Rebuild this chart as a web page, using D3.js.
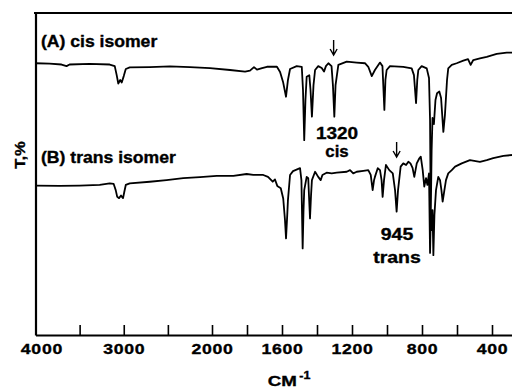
<!DOCTYPE html>
<html>
<head>
<meta charset="utf-8">
<title>IR spectra cis / trans</title>
<style>
  body { margin: 0; background: #fff; }
  svg { display: block; font-family: "Liberation Sans", Arial, sans-serif; font-weight: bold; }
  svg text { stroke: #000; stroke-width: 0.35px; }
</style>
</head>
<body>
<svg></svg>
<script src="https://d3js.org/d3.v7.min.js"></script>
<script>
// wavenumbers (cm-1) and transmittance, A = cis, B = trans
var cisWave = [4000,3841,3705,3648,3614,3386,3159,3102,3080,3062,3040,3023,3000,2977,2932,2705,2477,2250,2023,1897,
  1811,1783,1760,1743,1714,1686,1629,1611,1594,1577,1566,1554,1516,1487,1480,1473,1466,1459,1444,1437,
  1429,1420,1411,1393,1373,1360,1349,1335,1317,1309,1301,1294,1278,1230,1173,1126,1107,1087,1069,1040,
  1026,1015,1009,1002,983,907,859,846,834,827,821,802,773,760,754,750,745,740,732,723,
  714,701,691,678,669,657,650,630,602,564,537,522,507,469,430,373,316,286]
var cisT = [84.4,84.3,84.0,83.5,84.0,84.2,84.0,83.5,80.7,78.1,79.2,78.4,80.4,82.6,83.1,83.2,83.4,83.2,82.9,82.3,
  81.8,82.1,83.2,82.4,82.9,83.3,83.3,81.7,78.6,74.0,79.2,82.6,83.5,83.3,76.1,60.5,73.0,80.2,80.7,76.1,
  67.8,77.6,82.3,83.5,82.9,81.8,83.5,84.4,83.5,77.6,67.8,77.6,83.9,84.9,84.6,84.4,83.3,80.4,82.3,84.6,
  83.5,69.9,79.2,82.3,83.5,83.3,82.8,80.7,72.0,79.2,82.3,83.5,82.8,79.8,66.8,37.3,57.4,67.4,65.5,73.0,
  75.1,75.6,73.6,63.1,68.3,79.2,82.8,83.9,84.4,85.2,85.7,83.9,85.4,85.9,86.4,87.3,87.7,87.7]

var transWave = [4000,3727,3500,3273,3159,3114,3091,3074,3053,3031,3008,2994,2977,2932,2705,2515,2326,2136,1973,1878,
  1802,1764,1707,1680,1653,1640,1627,1607,1593,1583,1577,1570,1566,1554,1537,1497,1489,1482,1477,1473,
  1459,1450,1446,1440,1434,1429,1411,1393,1379,1369,1345,1316,1287,1230,1211,1193,1173,1135,1107,1093,
  1082,1074,1069,1053,1040,1031,1025,1017,1006,987,967,954,945,937,922,907,891,878,866,854,
  844,830,815,807,796,787,777,769,760,754,749,745,740,735,729,720,707,697,689,682,
  672,663,650,630,611,573,526,469,430,393,335,286]
var transT = [46.4,46.3,46.4,46.6,47.1,46.9,45.0,42.9,42.5,43.3,42.5,44.4,46.6,47.1,47.6,48.1,48.7,49.0,49.4,49.4,
  50.0,49.7,49.7,49.1,47.6,48.3,46.3,45.6,42.4,35.7,30.0,37.3,41.9,49.7,50.9,51.8,48.1,26.9,38.8,45.0,
  49.1,48.7,43.5,36.2,43.5,48.1,50.7,49.1,48.1,49.7,50.4,50.2,50.4,50.7,51.2,50.2,50.7,51.0,51.2,49.7,
  45.0,48.1,49.1,51.8,51.2,48.1,42.9,48.1,52.8,51.2,50.2,45.0,38.3,45.0,52.3,53.3,52.8,53.8,53.3,51.9,
  49.1,53.3,54.9,55.4,51.2,46.1,48.7,46.6,50.2,25.5,38.8,32.6,38.8,24.8,37.3,45.0,49.1,48.1,45.0,41.4,
  45.0,48.1,50.2,51.2,52.3,53.3,54.3,53.8,54.3,54.9,55.6,55.9]

// axis ticks
var tickWaves = [4000,3500,3000,2500,2000,1800,1600,1400,1200,1000,800,600,400]
var tickLabels = [4000,3000,2000,1600,1200,800,400]

// annotations: arrow position (cm-1), label lines
var markWave = [1305, 945]
var markText = [["1320","cis"], ["945","trans"]]
var titles = ["(A) cis isomer", "(B) trans isomer"]

var _width = 512
var _height = 390
var _svg = d3.select("svg").attr("width", _width).attr("height", _height)

// expanded scale below 2000 cm-1, like the paper chart
var x = d3.scaleLinear().domain([4000, 2000, 400, 286]).range([35.5, 212, 492, 512])
var y = d3.scaleLinear().domain([0, 100]).range([335, 13])

// the printed lettering is wider than Liberation Sans, so stretch it a bit
function wideText(sel, px, py, sx) {
  return sel.attr("transform", "translate(" + px + "," + py + ") scale(" + sx + ",1)")
}

// frame top line
_svg.append("line")
  .attr("x1", 34).attr("x2", _width).attr("y1", y(100)).attr("y2", y(100))
  .attr("stroke", "#000").attr("stroke-width", 2)

// bottom axis
var xAxis = d3.axisBottom(x)
  .tickValues(tickWaves)
  .tickSizeInner(-10)
  .tickSizeOuter(0)
  .tickPadding(8)
  .tickFormat(function(d) { return tickLabels.indexOf(d) >= 0 ? d : "" })
var gx = _svg.append("g").attr("transform", "translate(0," + y(0) + ")").call(xAxis)
gx.select(".domain").attr("stroke-width", 2.2)
gx.selectAll(".tick line").attr("stroke-width", 1.6)
gx.selectAll(".tick text")
  .attr("font-size", 15).attr("font-weight", "bold").attr("fill", "#000")
  .attr("letter-spacing", 0.6)
  .attr("transform", "scale(1.18,1)")
gx.selectAll(".tick").filter(function(d) { return d == 4000 }).select("text").attr("x", 5)

// left axis
var gy = _svg.append("g").attr("transform", "translate(" + x(4000) + ",0)")
  .call(d3.axisLeft(y).ticks(0).tickSizeOuter(0))
gy.select(".domain").attr("stroke-width", 2.2)

// spectra
var line = d3.line().x(function(d) { return x(d[0]) }).y(function(d) { return y(d[1]) })
var spectra = [d3.zip(cisWave, cisT), d3.zip(transWave, transT)]
_svg.selectAll("path.spec").data(spectra).enter().append("path")
  .attr("class", "spec")
  .attr("d", line)
  .attr("fill", "none")
  .attr("stroke", "#000")
  .attr("stroke-width", 1.8)
  .attr("stroke-linejoin", "round")

// titles
var titleY = [47, 163]
titles.forEach(function(t, i) {
  wideText(_svg.append("text"), 41, titleY[i], 1.1)
    .attr("font-size", 16)
    .text(t)
})

// arrows and peak labels
var arrowTop = [40, 142]
markWave.forEach(function(w, i) {
  var ax = x(w), y0 = arrowTop[i], y1 = y0 + 15
  _svg.append("path")
    .attr("d", "M" + ax + "," + y0 + "V" + y1 + "M" + (ax - 3.5) + "," + (y1 - 6) + "L" + ax + "," + y1 + "L" + (ax + 3.5) + "," + (y1 - 6))
    .attr("fill", "none").attr("stroke", "#000").attr("stroke-width", 1.4)
})
var labelX = [337, 397]
var labelY = [[138.5, 156.7], [240, 263]]
var labelSx = [[1.15, 1.02], [1.18, 1.18]]
markText.forEach(function(t, i) {
  t.forEach(function(s, j) {
    wideText(_svg.append("text"), labelX[i], labelY[i][j], labelSx[i][j])
      .attr("text-anchor", "middle")
      .attr("font-size", 16.5)
      .text(s)
  })
})

// axis titles
var xt = wideText(_svg.append("text"), 289, 386, 1.25)
  .attr("text-anchor", "middle")
  .attr("font-size", 15)
xt.append("tspan").text("CM")
xt.append("tspan").attr("dx", 2).attr("dy", -7).attr("font-size", 10).text("-1")

_svg.append("text")
  .attr("transform", "translate(25,155) rotate(-90) scale(1.1,1)")
  .attr("text-anchor", "middle")
  .attr("font-size", 15)
  .text("T,%")
</script>
</body>
</html>
